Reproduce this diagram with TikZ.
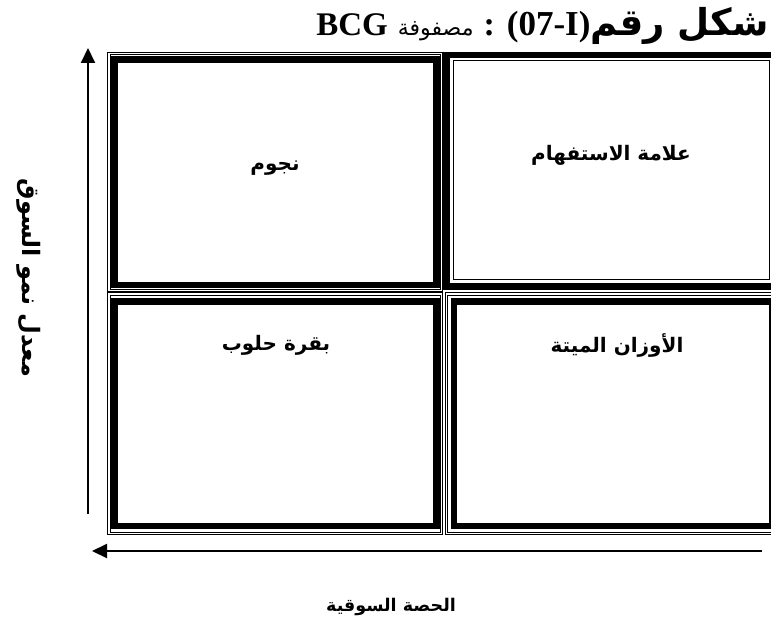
\documentclass[tikz,border=0pt]{standalone}
\usepackage{fontspec}
\setmainfont{Liberation Serif}
\newfontfamily\arabicfont[Script=Arabic]{DejaVu Sans}
\TeXXeTstate=1
\usetikzlibrary{arrows.meta}
\tikzset{
  thinln/.style={line width=1pt},
  thickln/.style={line width=6.5pt},
  axis/.style={line width=2pt,-{Triangle[length=15pt,width=14pt]}},
  lab/.style={inner sep=0pt,font=\arabicfont\bfseries\fontsize{20}{22}\selectfont},
}
\begin{document}
\begin{tikzpicture}[x=1pt,y=-1pt]
\useasboundingbox (0,0) rectangle (771,634);
\fill[white] (0,0) rectangle (771,634);
\begin{scope}
\clip (0,0) rectangle (771,634);
% top-left cell (thin outside, thick inside)
\draw[thinln] (107.5,52.5) rectangle (442.5,291.5);
\draw[thinln] (110,55) rectangle (440,289);
\draw[thickln] (114.5,59.5) rectangle (436.5,285);
% top-right cell (thick outside, thin inside)
\draw[thickln] (446.5,55) rectangle (775,286.5);
\draw[thinln] (453,61) rectangle (769,279.5);
% bottom-left cell
\draw[thinln] (107.5,292.5) rectangle (442.5,534.5);
\draw[thinln] (110,295) rectangle (440,532);
\draw[thickln] (114.5,301.5) rectangle (436.5,526);
% bottom-right cell
\draw[thinln] (445,292.5) rectangle (780,534.5);
\draw[thinln] (447.5,295) rectangle (780,532);
\draw[thickln] (454,301.5) rectangle (772,526);
\end{scope}
% axes
\coordinate (ybot) at (88,514);
\coordinate (ytop) at (88,48);
\coordinate (xright) at (762,551);
\coordinate (xleft) at (92,551);
\draw[axis] (ybot) -- (ytop);
\draw[axis] (xright) -- (xleft);
% cell labels
\node[lab] (tl) at (275,168) {\beginR نجوم\endR};
\node[lab] (tr) at (611,155) {\beginR علامة الاستفهام\endR};
\node[lab] (bl) at (276,345) {\beginR بقرة حلوب\endR};
\node[lab] (br) at (617,345) {\beginR الأوزان الميتة\endR};
\node[lab,font=\arabicfont\bfseries\fontsize{17.5}{20}\selectfont] (xl) at (391,607) {\beginR الحصة السوقية\endR};
\node[lab,rotate=-90,font=\arabicfont\bfseries\fontsize{24}{26}\selectfont] (yl) at (29,278) {\beginR معدل نمو السوق\endR};
% title
\node[anchor=base east,inner sep=0pt] (title) at (769,36) {\beginR{\arabicfont\bfseries\fontsize{37}{38}\selectfont شكل رقم}\beginL{\bfseries\fontsize{35}{36}\selectfont(07-I)}\endL{\bfseries\fontsize{34}{36}\selectfont\hspace{12pt}:\hspace{10pt}}{\arabicfont\fontsize{22}{24}\selectfont مصفوفة}\hspace{10pt}\beginL{\bfseries\fontsize{33}{36}\selectfont BCG}\endL\endR};
\end{tikzpicture}
\end{document}
